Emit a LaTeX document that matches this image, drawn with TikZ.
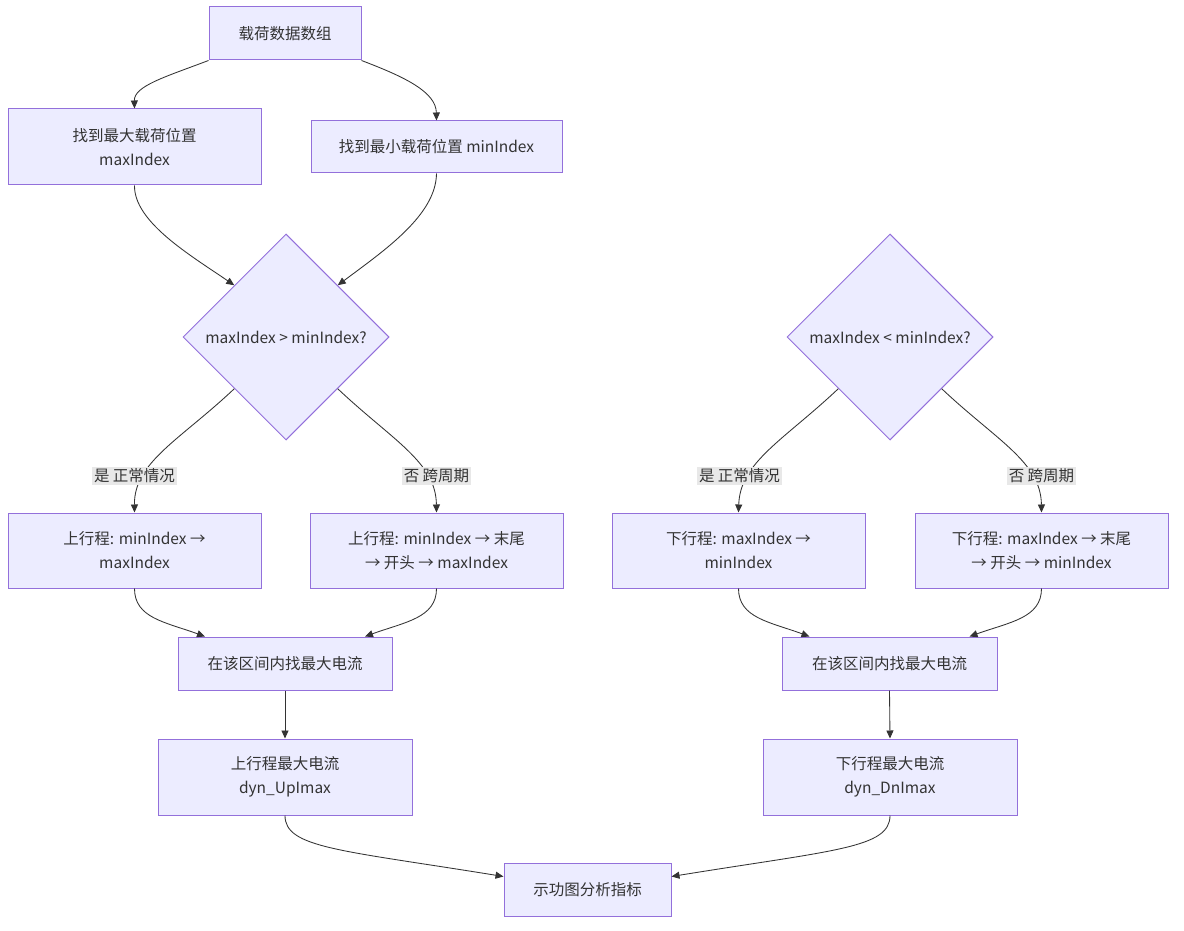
\documentclass[tikz,border=0pt]{standalone}
\usepackage{fontspec}
\setmainfont{Noto Sans CJK SC}
\usetikzlibrary{shapes.geometric,arrows.meta,calc}
\definecolor{nodefill}{HTML}{ECECFF}
\definecolor{nodeline}{HTML}{9370DB}
\definecolor{edgeline}{HTML}{333333}
\definecolor{txt}{HTML}{333333}
\definecolor{lblbg}{HTML}{E8E8E8}
\begin{document}
\begin{tikzpicture}[x=1pt,y=-1pt,
  every node/.style={text=txt,font=\fontsize{15.5}{24}\selectfont},
  box/.style={draw=nodeline,fill=nodefill,line width=1pt,rectangle,inner sep=0pt,align=center},
  decision/.style={draw=nodeline,fill=nodefill,line width=1pt,diamond,inner sep=0pt,minimum width=206pt,minimum height=206pt,align=center},
  lbl/.style={fill=lblbg,inner sep=2pt,align=center},
  edge/.style={draw=edgeline,line width=0.85pt,-{Triangle[length=8pt,width=7pt]}}
]
\useasboundingbox (0,0) rectangle (1184,931);
\fill[white] (0,0) rectangle (1184,931);

\node[box,minimum width=152pt,minimum height=53pt] (A) at (285,33.5) {载荷数据数组};
\node[box,minimum width=253pt,minimum height=76pt] (B) at (134.5,147) {找到最大载荷位置\\maxIndex};
\node[box,minimum width=251pt,minimum height=52pt] (C) at (436.5,147) {找到最小载荷位置 minIndex};
\node[decision] (D) at (286,337) {maxIndex > minIndex?};
\node[decision] (E) at (890,337) {maxIndex < minIndex?};
\node[box,minimum width=253pt,minimum height=75pt] (F) at (134.5,550.5) {上行程: minIndex →\\maxIndex};
\node[box,minimum width=253pt,minimum height=75pt] (G) at (436.5,550.5) {上行程: minIndex → 末尾\\→ 开头 → maxIndex};
\node[box,minimum width=253pt,minimum height=75pt] (H) at (738.5,550.5) {下行程: maxIndex →\\minIndex};
\node[box,minimum width=253pt,minimum height=75pt] (I) at (1041.5,550.5) {下行程: maxIndex → 末尾\\→ 开头 → minIndex};
\node[box,minimum width=214pt,minimum height=53pt] (J) at (285,663.5) {在该区间内找最大电流};
\node[box,minimum width=215pt,minimum height=53pt] (K) at (889.5,663.5) {在该区间内找最大电流};
\node[box,minimum width=254pt,minimum height=76pt] (L) at (285,777) {上行程最大电流\\dyn\_UpImax};
\node[box,minimum width=254pt,minimum height=76pt] (M) at (890,777) {下行程最大电流\\dyn\_DnImax};
\node[box,minimum width=167pt,minimum height=53pt] (N) at (587.5,889.5) {示功图分析指标};

\draw[edge] (A.south west) .. controls (165,77) and (134,86) .. (B.north);
\draw[edge] (A.south east) .. controls (405,77) and (436,92) .. (C.north);
\draw[edge] (B.south) .. controls (134,222) and (190,255) .. (D.north west);
\draw[edge] (C.south) .. controls (436,215) and (385,250) .. (D.north east);

\draw[edge] (D.south west) .. controls (180,440) and (134,462) .. (F.north);
\draw[edge] (D.south east) .. controls (392,440) and (436,462) .. (G.north);
\draw[edge] (E.south west) .. controls (784,440) and (740,462) .. (H.north);
\draw[edge] (E.south east) .. controls (996,440) and (1041,462) .. (I.north);

\node[lbl] (lF) at (134.5,476) {是 正常情况};
\node[lbl] (lG) at (436.5,476) {否 跨周期};
\node[lbl] (lH) at (739.5,476) {是 正常情况};
\node[lbl] (lI) at (1041.5,476) {否 跨周期};

\draw[edge] (F.south) .. controls (134.5,618) and (165,622) .. ($(J.north)+(-80,0)$);
\draw[edge] (G.south) .. controls (436.5,618) and (405,622) .. ($(J.north)+(80,0)$);
\draw[edge] (H.south) .. controls (738.5,618) and (770,622) .. ($(K.north)+(-80,0)$);
\draw[edge] (I.south) .. controls (1041.5,618) and (1010,622) .. ($(K.north)+(80,0)$);

\draw[edge] (J.south) -- (L.north);
\draw[edge] (K.south) -- (M.north);

\draw[edge] (L.south) .. controls (285,848) and (340,850) .. ($(N.west)+(0,-13)$);
\draw[edge] (M.south) .. controls (890,848) and (835,850) .. ($(N.east)+(0,-13)$);
\end{tikzpicture}
\end{document}
